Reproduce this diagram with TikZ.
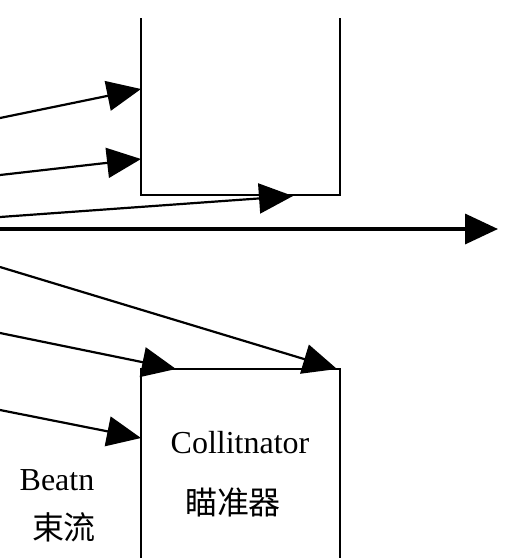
\documentclass[tikz,border=0pt]{standalone}
\usepackage{fontspec}
\setmainfont{Liberation Serif}
\newfontfamily\cjk{Noto Sans CJK SC}
\usetikzlibrary{arrows.meta}
\tikzset{
  wall/.style={draw=black,line width=2.6pt},
  ray/.style={-{Triangle[length=34pt,width=30pt]},line width=2.2pt},
  beamaxis/.style={-{Triangle[length=33pt,width=30pt]},line width=3.6pt},
  caption/.style={font=\fontsize{32}{36}\selectfont,inner sep=0pt}
}

\begin{document}
\begin{tikzpicture}[x=1pt,y=-1pt]
      \useasboundingbox (0,0) rectangle (505,558);
      \coordinate (upTL) at (141,18);
      \coordinate (upBL) at (141,195);
      \coordinate (upBR) at (340,195);
      \coordinate (upTR) at (340,18);
      \coordinate (lowBL) at (141,558);
      \coordinate (lowTL) at (141,369);
      \coordinate (lowTR) at (340,369);
      \coordinate (lowBR) at (340,558);
      \draw[wall] (upTL) -- (upBL) -- (upBR) -- (upTR);
      \draw[wall] (lowBL) -- (lowTL) -- (lowTR) -- (lowBR);
      \coordinate (axisL) at (0,229);
      \coordinate (axisR) at (498,229);
      \draw[beamaxis] (axisL) -- (axisR);
      \coordinate (src1) at (0,118);
      \coordinate (src2) at (0,175);
      \coordinate (src3) at (0,217);
      \coordinate (src4) at (0,267);
      \coordinate (src5) at (0,333);
      \coordinate (src6) at (0,410);
      \coordinate (hit1) at (141,89);
      \coordinate (hit2) at (141,159);
      \coordinate (hit3) at (293,196);
      \coordinate (hit4) at (337,369);
      \coordinate (hit5) at (176,369);
      \coordinate (hit6) at (141,438);
      \draw[ray] (src1) -- (hit1);
      \draw[ray] (src2) -- (hit2);
      \draw[ray] (src3) -- (hit3);
      \draw[ray] (src4) -- (hit4);
      \draw[ray] (src5) -- (hit5);
      \draw[ray] (src6) -- (hit6);
      \node[caption] (coll) at (240,443) {Collitnator};
      \node[caption] (collcn) at (233,502) {\cjk 瞄准器};
      \node[caption] (beam) at (57,480) {Beatn};
      \node[caption] (beamcn) at (64,527) {\cjk 束流};
    \end{tikzpicture}
\end{document}
